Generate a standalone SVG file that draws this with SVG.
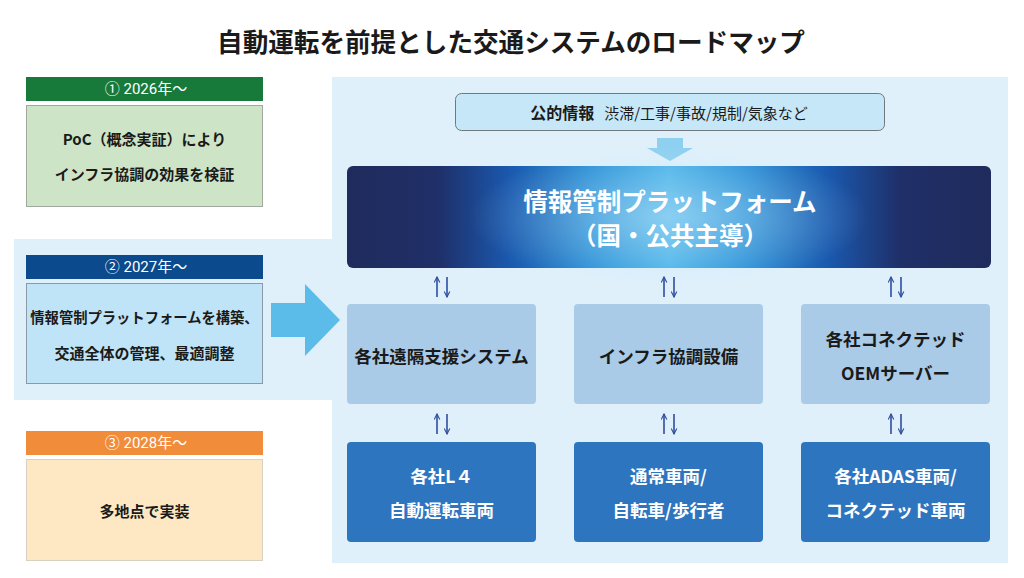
<svg xmlns="http://www.w3.org/2000/svg" width="1024" height="578" viewBox="0 0 1024 578">
<defs>
<style>
text{font-family:"Noto Sans CJK JP","Noto Sans",sans-serif;font-weight:bold;text-anchor:middle;dominant-baseline:central}
.dark{fill:#1a1a1a}
.white{fill:#ffffff}
.mid{fill:#a9cbe8}
.bot{fill:#2e75bf}
.hd{font-size:15px;fill:#fff;font-weight:normal;font-family:"Roboto","Noto Sans CJK JP",sans-serif}
.lt{font-size:15px}
.bx{font-size:17.5px}
.dbl{stroke:#2f4ea0;stroke-width:1.6;fill:none}
</style>
<linearGradient id="plat" x1="0" y1="0" x2="1" y2="0">
<stop offset="0" stop-color="#1f2b5c"/>
<stop offset="0.14" stop-color="#1f2f68"/>
<stop offset="0.25" stop-color="#1a58ad"/>
<stop offset="0.38" stop-color="#2b90d6"/>
<stop offset="0.5" stop-color="#4ab3e8"/>
<stop offset="0.62" stop-color="#2b90d6"/>
<stop offset="0.75" stop-color="#1a58ad"/>
<stop offset="0.86" stop-color="#1f2f68"/>
<stop offset="1" stop-color="#1f2b5c"/>
</linearGradient>
<radialGradient id="glow" cx="0.5" cy="0.5" r="0.5">
<stop offset="0" stop-color="#bfe6fa" stop-opacity="0.55"/>
<stop offset="1" stop-color="#bfe6fa" stop-opacity="0"/>
</radialGradient>
<marker id="ah" viewBox="0 0 10 10" refX="9" refY="5" markerWidth="7" markerHeight="7" markerUnits="userSpaceOnUse" orient="auto">
<path d="M1,1 L9,5 L1,9" fill="none" stroke="#2f4ea0" stroke-width="1.6"/>
</marker>
</defs>
<rect width="1024" height="578" fill="#ffffff"/>

<g id="title"><text x="511" y="40" style="font-size:25.6px" class="dark">自動運転を前提とした交通システムのロードマップ</text></g>

<g id="panels">
<rect x="332" y="77" width="676" height="486" fill="#dff0fa"/>
<rect x="14" y="239" width="318" height="161" fill="#dff0fa"/>
</g>

<g id="phase1">
<rect x="26" y="77" width="237" height="24" fill="#177a3b"/>
<text x="146" y="89" class="hd">① 2026年～</text>
<rect x="26.5" y="105.5" width="236" height="101" fill="#cde5c6" stroke="#a0a8a0"/>
<text x="144.5" y="138" class="lt dark">PoC（概念実証）により</text>
<text x="144.5" y="173" class="lt dark">インフラ協調の効果を検証</text>
</g>

<g id="phase2">
<rect x="26" y="255" width="237" height="24" fill="#0b4a8c"/>
<text x="146" y="267" class="hd">② 2027年～</text>
<rect x="26.5" y="283.5" width="236" height="100" fill="#bfe3f7" stroke="#8a9aa8"/>
<text x="144.5" y="316" class="lt dark" style="font-size:14.3px">情報管制プラットフォームを構築、</text>
<text x="144.5" y="352" class="lt dark">交通全体の管理、最適調整</text>
</g>

<g id="phase3">
<rect x="26" y="431" width="237" height="24" fill="#f08c3a"/>
<text x="146" y="443" class="hd">③ 2028年～</text>
<rect x="26.5" y="459.5" width="236" height="101" fill="#fde8c3" stroke="#d8d0c0"/>
<text x="144.5" y="510" class="lt dark">多地点で実装</text>
</g>

<g id="bigarrow"><polygon points="271,303 305,303 305,284 340,320 305,356 305,337 271,337" fill="#5bbcea"/></g>

<g id="public">
<rect x="455.5" y="93.5" width="429" height="37" rx="6" fill="#c6e7f8" stroke="#707880"/>
<text x="669" y="112"><tspan class="dark" style="font-size:16px">公的情報</tspan><tspan class="dark" dx="10" style="font-size:15px;font-weight:normal">渋滞/工事/事故/規制/気象など</tspan></text>
</g>

<g id="downarrow"><polygon points="657,138 683,138 683,148 693,148 670,161 647,148 657,148" fill="#8fd0f0"/></g>

<g id="platform">
<rect x="347" y="166" width="644" height="102" rx="6" fill="url(#plat)"/>
<ellipse cx="669" cy="217" rx="200" ry="70" fill="url(#glow)"/>
<text x="670" y="200" class="white" style="font-size:24.5px">情報管制プラットフォーム</text>
<text x="670" y="234" class="white" style="font-size:24.5px">（国・公共主導）</text>
</g>

<g id="remote"><rect x="347" y="304" width="189" height="100" rx="4" class="mid"/><text x="441.5" y="355" class="bx dark">各社遠隔支援システム</text></g>
<g id="infra"><rect x="574" y="304" width="189" height="100" rx="4" class="mid"/><text x="668.5" y="355" class="bx dark">インフラ協調設備</text></g>
<g id="oem"><rect x="801" y="304" width="189" height="100" rx="4" class="mid"/><text x="895.5" y="338" class="bx dark">各社コネクテッド</text><text x="895.5" y="372" class="bx dark">OEMサーバー</text></g>

<g id="l4"><rect x="347" y="442" width="189" height="100" rx="4" class="bot"/><text x="441.5" y="475" class="bx white">各社L４</text><text x="441.5" y="509" class="bx white">自動運転車両</text></g>
<g id="normal"><rect x="574" y="442" width="189" height="100" rx="4" class="bot"/><text x="668.5" y="475" class="bx white">通常車両/</text><text x="668.5" y="509" class="bx white">自転車/歩行者</text></g>
<g id="adas"><rect x="801" y="442" width="189" height="100" rx="4" class="bot"/><text x="895.5" y="475" class="bx white">各社ADAS車両/</text><text x="895.5" y="509" class="bx white">コネクテッド車両</text></g>

<g id="connectors">
<path class="dbl" d="M437,297 V277" marker-end="url(#ah)"/><path class="dbl" d="M447,277 V297" marker-end="url(#ah)"/>
<path class="dbl" d="M664,297 V277" marker-end="url(#ah)"/><path class="dbl" d="M674,277 V297" marker-end="url(#ah)"/>
<path class="dbl" d="M891,297 V277" marker-end="url(#ah)"/><path class="dbl" d="M901,277 V297" marker-end="url(#ah)"/>
<path class="dbl" d="M437,434 V414" marker-end="url(#ah)"/><path class="dbl" d="M447,414 V434" marker-end="url(#ah)"/>
<path class="dbl" d="M664,434 V414" marker-end="url(#ah)"/><path class="dbl" d="M674,414 V434" marker-end="url(#ah)"/>
<path class="dbl" d="M891,434 V414" marker-end="url(#ah)"/><path class="dbl" d="M901,414 V434" marker-end="url(#ah)"/>
</g>
</svg>
